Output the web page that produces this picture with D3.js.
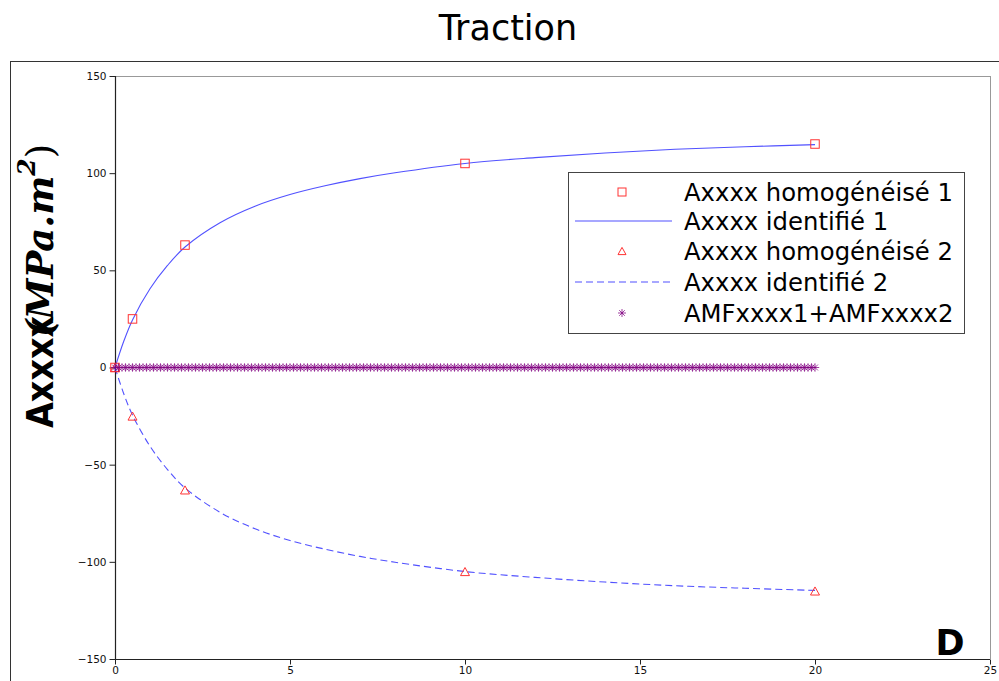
<!DOCTYPE html>
<html>
<head>
<meta charset="utf-8">
<script src="https://cdn.jsdelivr.net/npm/d3@7"></script>
<style>
  html, body { margin: 0; padding: 0; background: #fff; }
  svg { display: block; font-family: "DejaVu Sans", sans-serif; }
</style>
</head>
<body>
<svg id="chart" width="999" height="681"></svg>
<script>
// Measured points (homogenised) and identified curves, tensile case
const homogD = [0, 0.5, 2, 10, 20];
const homog1 = [0, 25, 63, 105, 115];
const homog2 = [0, -25, -63, -105, -115];

const curveD = [0, 0.25, 0.5, 1, 1.5, 2, 3, 4, 5, 6, 7, 8, 10, 12, 14, 16, 18, 20];
const ident1 = [0, 13.5, 24.5, 40.5, 52.5, 62, 74.5, 83, 89, 93.5, 97.2, 100.2, 105, 108, 110.4, 112.3, 113.6, 114.7];
const ident2 = [0, -13.5, -24.5, -40.5, -52.5, -62, -74.5, -83, -89, -93.5, -97.2, -100.2, -105, -108, -110.4, -112.3, -113.6, -114.7];

// Sum AMF1 + AMF2 sampled every 0.1 on D in [0, 20]
const sumD = d3.range(0, 200.5, 1).map(i => i / 10);
const sumValues = new Array(sumD.length).fill(0);

const xTicks = [0, 5, 10, 15, 20, 25];
const yTicks = [-150, -100, -50, 0, 50, 100, 150];

const legendLabels = [
  "Axxxx homogénéisé 1",
  "Axxxx identifié 1",
  "Axxxx homogénéisé 2",
  "Axxxx identifié 2",
  "AMFxxxx1+AMFxxxx2"
];

const svg = d3.select("#chart");
const pLeft = 115, pRight = 990, pTop = 76, pBottom = 659;

const x = d3.scaleLinear().domain([0, 25]).range([pLeft, pRight]);
const y = d3.scaleLinear().domain([-150, 150]).range([pBottom, pTop]);

// Title
svg.append("text").attr("x", 508).attr("y", 40).attr("text-anchor", "middle")
  .attr("font-size", 35).attr("fill", "#000").text("Traction");

// Outer figure frame (top and left)
svg.append("line").attr("x1", 10).attr("x2", 999).attr("y1", 61.5).attr("y2", 61.5)
  .attr("stroke", "#333").attr("stroke-width", 1);
svg.append("line").attr("x1", 10.5).attr("x2", 10.5).attr("y1", 61).attr("y2", 681)
  .attr("stroke", "#333").attr("stroke-width", 1);

// Plot box: light top and right edges
svg.append("line").attr("x1", pLeft).attr("x2", pRight).attr("y1", pTop + 0.5).attr("y2", pTop + 0.5)
  .attr("stroke", "#999").attr("stroke-width", 1);
svg.append("line").attr("x1", pRight + 0.5).attr("x2", pRight + 0.5).attr("y1", pTop).attr("y2", pBottom)
  .attr("stroke", "#999").attr("stroke-width", 1);

// Axes
const yAxis = d3.axisLeft(y).tickValues(yTicks).tickSize(6).tickPadding(3)
  .tickFormat(d => d < 0 ? "\u2212" + Math.abs(d) : String(d));
const gy = svg.append("g").attr("transform", `translate(${pLeft + 0.5},0)`).call(yAxis);
const xAxis = d3.axisBottom(x).tickValues(xTicks).tickSize(5).tickPadding(2);
const gx = svg.append("g").attr("transform", `translate(0,${pBottom + 0.5})`).call(xAxis);
[gx, gy].forEach(g => {
  g.select(".domain").attr("stroke", "#222").attr("stroke-width", 1.2);
  g.selectAll(".tick line").attr("stroke", "#222");
  g.selectAll(".tick text").attr("font-family", "DejaVu Sans, sans-serif").attr("font-size", 10.5).attr("fill", "#111");
});
gy.select(".domain").attr("d", `M0,${pTop}V${pBottom}`);
gx.select(".domain").attr("d", `M${pLeft},0H${pRight}`);

const plot = svg.append("g");

const lineGen = d3.line().x(d => x(d[0])).y(d => y(d[1])).curve(d3.curveCatmullRom.alpha(0.5));

plot.append("path").datum(curveD.map((d, i) => [d, ident1[i]]))
  .attr("d", lineGen).attr("fill", "none").attr("stroke", "#3333ff").attr("stroke-opacity", 0.85).attr("stroke-width", 1.1);
plot.append("path").datum(curveD.map((d, i) => [d, ident2[i]]))
  .attr("d", lineGen).attr("fill", "none").attr("stroke", "#3333ff").attr("stroke-opacity", 0.85).attr("stroke-width", 1.1)
  .attr("stroke-dasharray", "7,4");

// Marker drawers
function square(g, cx, cy, s) {
  g.append("rect").attr("x", cx - s / 2).attr("y", cy - s / 2).attr("width", s).attr("height", s)
    .attr("fill", "none").attr("stroke", "#ff3333").attr("stroke-width", 1);
}
function triangle(g, cx, cy, s) {
  const h = s * 0.9;
  g.append("path").attr("d", `M${cx},${cy - h / 2}L${cx + s / 2},${cy + h / 2}L${cx - s / 2},${cy + h / 2}Z`)
    .attr("fill", "none").attr("stroke", "#ff3333").attr("stroke-width", 1);
}
function star(g, cx, cy, r) {
  const d = r * 0.7;
  g.append("path")
    .attr("d", `M${cx - r},${cy}H${cx + r}M${cx},${cy - r}V${cy + r}M${cx - d},${cy - d}L${cx + d},${cy + d}M${cx - d},${cy + d}L${cx + d},${cy - d}`)
    .attr("stroke", "#800080").attr("stroke-opacity", 0.75).attr("stroke-width", 1).attr("fill", "none");
}

homogD.forEach((d, i) => square(plot, x(d), y(homog1[i]), 8.5));
homogD.forEach((d, i) => triangle(plot, x(d), y(homog2[i]), 9));
sumD.forEach((d, i) => star(plot, x(d), y(sumValues[i]), 4.2));

// Legend
const lg = svg.append("g");
lg.append("rect").attr("x", 568.5).attr("y", 172.5).attr("width", 396).attr("height", 161)
  .attr("fill", "#fff").attr("stroke", "#444").attr("stroke-width", 1);
const rowY = [192, 221, 251, 282, 313];
legendLabels.forEach((lab, i) => {
  const cy = rowY[i];
  if (i === 0) square(lg, 622, cy, 8);
  if (i === 1) lg.append("line").attr("x1", 575).attr("x2", 672).attr("y1", cy).attr("y2", cy)
    .attr("stroke", "#3333ff").attr("stroke-opacity", 0.85).attr("stroke-width", 1.1);
  if (i === 2) triangle(lg, 622, cy, 8);
  if (i === 3) lg.append("line").attr("x1", 575).attr("x2", 672).attr("y1", cy).attr("y2", cy)
    .attr("stroke", "#3333ff").attr("stroke-opacity", 0.85).attr("stroke-width", 1.1).attr("stroke-dasharray", "7,4");
  if (i === 4) star(lg, 622, cy, 4);
  lg.append("text").attr("x", 684).attr("y", cy + 8.5).attr("font-size", 24.3).attr("fill", "#000").text(lab);
});

// Y axis title: bold quantity name followed by its unit in math italics
svg.append("text").attr("transform", "translate(53,428) rotate(-90)")
  .attr("font-weight", "bold").attr("font-size", 37).attr("fill", "#000")
  .attr("textLength", 112).attr("lengthAdjust", "spacingAndGlyphs").text("Axxxx");
const unit = svg.append("text").attr("transform", "translate(53,337) rotate(-90)").attr("fill", "#000")
  .attr("font-family", "DejaVu Serif, serif").attr("font-weight", "bold");
unit.append("tspan").attr("font-style", "italic").attr("font-size", 37).text("(MPa.m");
unit.append("tspan").attr("dy", -18).attr("font-style", "italic").attr("font-size", 25).text("2");
unit.append("tspan").attr("dy", 18).attr("font-weight", "normal").attr("font-size", 37).text(")");

// Panel letter
svg.append("text").attr("x", 950).attr("y", 655).attr("text-anchor", "middle")
  .attr("font-weight", "bold").attr("font-size", 35).attr("fill", "#000").text("D");
</script>
</body>
</html>
